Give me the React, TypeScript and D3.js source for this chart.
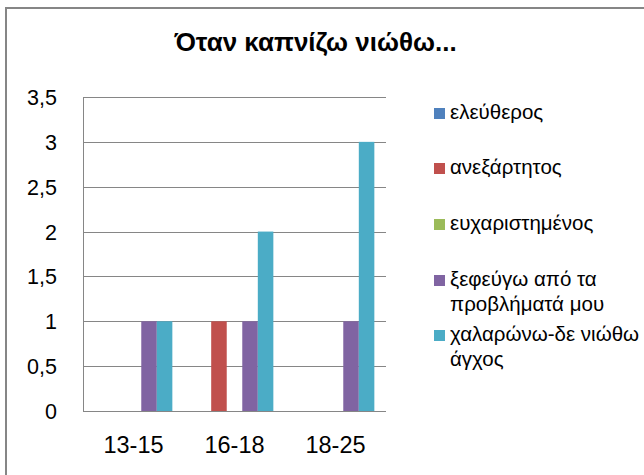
import React from "react";
import * as d3 from "d3";

const categories = ["13-15", "16-18", "18-25"];
const seriesNames = [
  "ελεύθερος",
  "ανεξάρτητος",
  "ευχαριστημένος",
  "ξεφεύγω από τα προβλήματά μου",
  "χαλαρώνω-δε νιώθω άγχος",
];
const legendLines = [
  ["ελεύθερος"],
  ["ανεξάρτητος"],
  ["ευχαριστημένος"],
  ["ξεφεύγω από τα", "προβλήματά μου"],
  ["χαλαρώνω-δε νιώθω", "άγχος"],
];
const seriesColors = ["#4F81BD", "#C0504D", "#9BBB59", "#8064A2", "#4BACC6"];
// values[series][category]
const s1 = [0, 0, 0];
const s2 = [0, 1, 0];
const s3 = [0, 0, 0];
const s4 = [1, 1, 1];
const s5 = [1, 2, 3];
const values = [s1, s2, s3, s4, s5];
const yTicks = [0, 0.5, 1, 1.5, 2, 2.5, 3, 3.5];
const title = "Όταν καπνίζω νιώθω...";

const FONT = "'Liberation Sans', Arial, sans-serif";

export default function App() {
  const W = 644, H = 475;
  const plot = { left: 83, right: 386, top: 97, bottom: 411 };
  const y = d3.scaleLinear().domain([0, 3.5]).range([plot.bottom, plot.top]);
  const x0 = d3.scaleBand().domain(categories).range([plot.left, plot.right]).paddingInner(0).paddingOuter(0);
  const bw = x0.bandwidth() / 6.5;
  const legendY = [113.5, 168.5, 224.5, 280.5, 335.5];
  const legFs = 20.5;

  return (
    <svg width={W} height={H} style={{ position: "absolute", left: 0, top: 0, background: "#fff" }}>
      <rect x={0} y={0} width={W} height={H} fill="#fff" />
      {/* outer frame */}
      <line x1={5} y1={8} x2={W} y2={8} stroke="#868686" strokeWidth={2} />
      <line x1={6} y1={7} x2={6} y2={H} stroke="#868686" strokeWidth={2} />
      <text x={315.5} y={51} textAnchor="middle" fontFamily={FONT} fontWeight="bold" fontSize={26} fill="#000">{title}</text>
      {/* gridlines */}
      {yTicks.map((t) => (
        <g key={t}>
          {t > 0 && (
            <line x1={plot.left} x2={plot.right} y1={Math.round(y(t)) + 0.5} y2={Math.round(y(t)) + 0.5} stroke="#868686" strokeWidth={1} />
          )}
          <text x={57} y={y(t) + 8} textAnchor="end" fontFamily={FONT} fontSize={21.5} fill="#000">
            {String(t).replace(".", ",")}
          </text>
        </g>
      ))}
      {/* bars */}
      {values.map((vals, si) =>
        vals.map((v, ci) => {
          if (v <= 0) return null;
          const bx = (x0(categories[ci]) as number) + 0.75 * bw + si * bw;
          return (
            <rect key={si + "-" + ci} x={bx} y={y(v)} width={bw} height={y(0) - y(v)} fill={seriesColors[si]} />
          );
        })
      )}
      {/* axes */}
      <line x1={plot.left + 0.5} x2={plot.left + 0.5} y1={plot.top} y2={plot.bottom} stroke="#868686" />
      <line x1={plot.left} x2={plot.right} y1={plot.bottom + 0.5} y2={plot.bottom + 0.5} stroke="#868686" />
      {categories.map((c) => (
        <text key={c} x={(x0(c) as number) + x0.bandwidth() / 2} y={453} textAnchor="middle" fontFamily={FONT} fontSize={23.5} fill="#000">
          {c}
        </text>
      ))}
      {/* legend */}
      {seriesNames.map((n, i) => (
        <g key={n}>
          <rect x={434} y={legendY[i] - 5.5} width={11} height={11} fill={seriesColors[i]} />
          {legendLines[i].map((ln, li) => (
            <text key={li} x={450} y={legendY[i] + 5.5 + li * 25} fontFamily={FONT} fontSize={legFs} fill="#000">
              {ln}
            </text>
          ))}
        </g>
      ))}
    </svg>
  );
}
